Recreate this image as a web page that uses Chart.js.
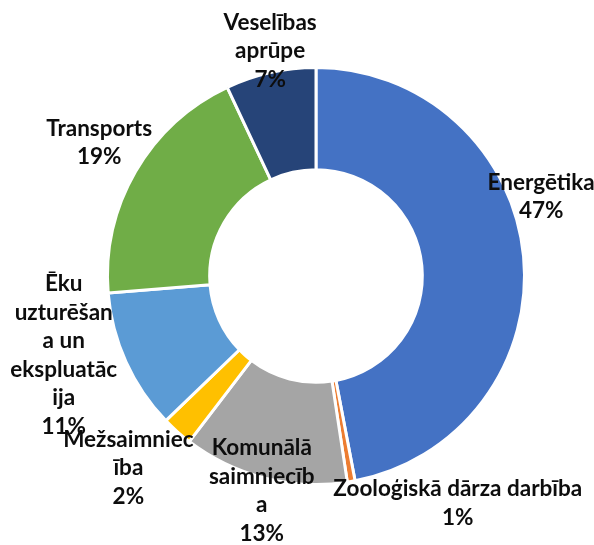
<!DOCTYPE html>
<html>
<head>
<meta charset="utf-8">
<script src="https://cdn.jsdelivr.net/npm/chart.js@4.4.0/dist/chart.umd.min.js"></script>
<style>
  html, body { margin: 0; padding: 0; background: #fff; }
  #wrap { width: 594px; height: 545px; }
</style>
</head>
<body>
<div id="wrap"><canvas id="myChart" width="594" height="545"></canvas></div>
<script>
// Sectors, clockwise from the top
const categories = ['Energētika', 'Zooloģiskā dārza darbība', 'Komunālā saimniecība', 'Mežsaimniecība',
  'Ēku uzturēšana un ekspluatācija', 'Transports', 'Veselības aprūpe'];
const shares = [47.0, 0.6, 12.8, 2.4, 10.9, 19.3, 7.0];
const labelLines = [
  ['Energētika'],
  ['Zooloģiskā dārza darbība'],
  ['Komunālā', 'saimniecīb', 'a'],
  ['Mežsaimniec', 'ība'],
  ['Ēku', 'uzturēšan', 'a un', 'ekspluatāc', 'ija'],
  ['Transports'],
  ['Veselības', 'aprūpe']
];

const sliceColors = ['#4472C4', '#ED7D31', '#A5A5A5', '#FFC000', '#5B9BD5', '#70AD47', '#264478'];

// Where each label block sits, as offset from the centre in units of the outer radius
const labelSpots = [
  [1.08, -0.38], [0.68, 1.09], [-0.26, 1.03], [-0.90, 0.92], [-1.21, 0.38], [-1.04, -0.64], [-0.22, -1.08]
];

const labelFont = 'bold 22.5px Lato';
const lineGap = 28.5;

// Draws the outside labels (name + percent) like Excel does
const outsideLabels = {
  id: 'outsideLabels',
  afterDatasetsDraw(chart) {
    const ctx = chart.ctx;
    const arcs = chart.getDatasetMeta(0).data;
    const total = shares.reduce((a, b) => a + b, 0);
    ctx.save();
    ctx.font = labelFont;
    ctx.fillStyle = '#0d0d0d';
    ctx.textAlign = 'center';
    ctx.textBaseline = 'middle';
    arcs.forEach((arc, i) => {
      const r = arc.outerRadius;
      const lines = labelLines[i].concat([Math.round(shares[i] / total * 100) + '%']);
      const cx = arc.x + labelSpots[i][0] * r;
      const cy = arc.y + labelSpots[i][1] * r;
      const top = cy - (lines.length - 1) * lineGap / 2;
      lines.forEach((txt, k) => ctx.fillText(txt, cx, top + k * lineGap));
    });
    ctx.restore();
  }
};

const ctx = document.getElementById('myChart').getContext('2d');
const myChart = new Chart(ctx, {
  type: 'doughnut',
  data: {
    labels: categories,
    datasets: [{
      data: shares,
      backgroundColor: sliceColors,
      borderColor: '#fff',
      borderWidth: 3
    }]
  },
  options: {
    responsive: false,
    animation: false,
    cutout: '51%',
    layout: {
      padding: { top: 66, bottom: 59, left: 106, right: 68 }
    },
    plugins: {
      legend: { display: false },
      tooltip: { enabled: false }
    }
  },
  plugins: [outsideLabels]
});
</script>
</body>
</html>
